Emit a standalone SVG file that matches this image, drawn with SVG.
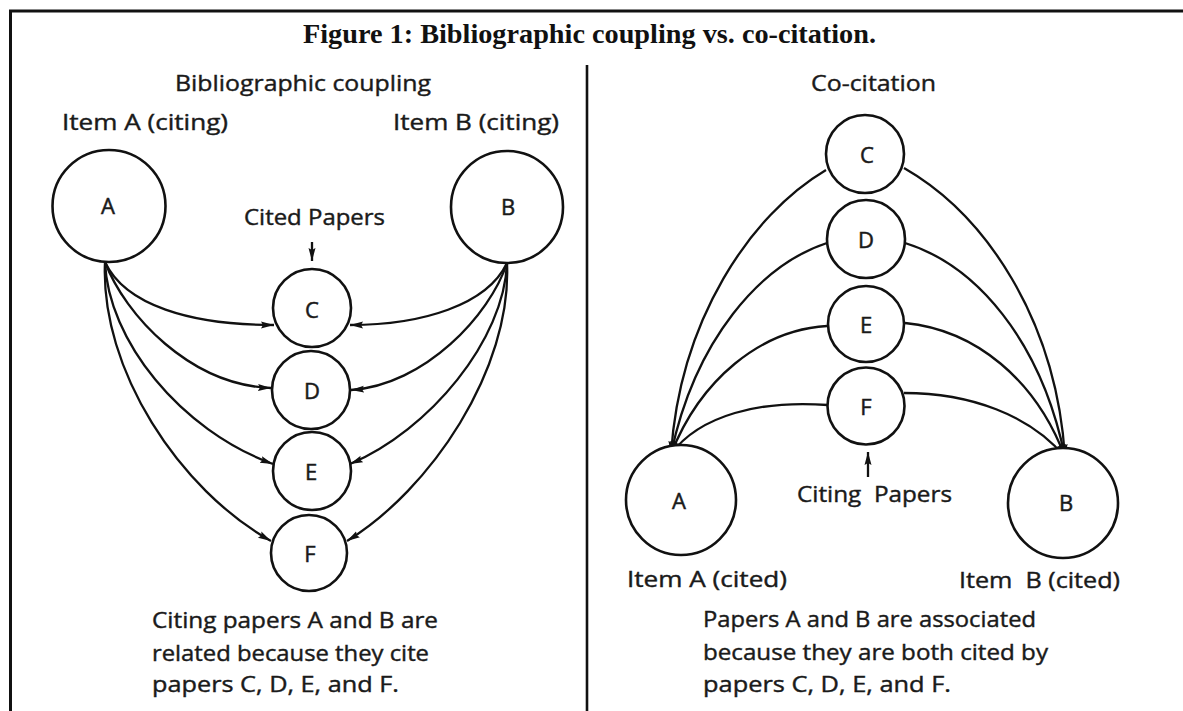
<svg xmlns="http://www.w3.org/2000/svg" width="1183" height="711" viewBox="0 0 1183 711">
<style>
.frame{stroke:#111;stroke-width:3;fill:none}
.node{fill:#fff;stroke:#111;stroke-width:2.6}
.lbl{font-family:"Open Sans","DejaVu Sans",sans-serif;font-size:22px;fill:#1a1a1a;stroke:#1a1a1a;stroke-width:0.5;text-anchor:middle}
.txt{font-family:"Open Sans","DejaVu Sans",sans-serif;font-size:21px;fill:#1a1a1a;stroke:#1a1a1a;stroke-width:0.4;white-space:pre}
.title{font-family:"Liberation Serif","Times New Roman",serif;font-weight:bold;font-size:28px;fill:#111}
.edge{fill:none;stroke:#111;stroke-width:2.3}
</style>
<defs>
<marker id="ah" markerUnits="userSpaceOnUse" markerWidth="14" markerHeight="9" refX="13" refY="4.5" orient="auto">
<path d="M0,1 L13,4.5 L0,8 L2,4.5 z" fill="#111"/>
</marker>
</defs>
<rect width="1183" height="711" fill="#fff"/>
<g id="frame">
<line class="frame" x1="9" y1="11" x2="1183" y2="11"/>
<line class="frame" x1="10.5" y1="10" x2="10.5" y2="711"/>
<line x1="587" y1="65" x2="587" y2="711" stroke="#111" stroke-width="2.6"/>
</g>
<text class="title" x="303" y="43" textLength="573" lengthAdjust="spacingAndGlyphs">Figure 1: Bibliographic coupling vs. co-citation.</text>

<g id="connectors">
<path class="edge" marker-end="url(#ah)" d="M105,262 C125,305 190,325 274,325"/>
<path class="edge" marker-end="url(#ah)" d="M105,262 C125,315 190,385 271,388"/>
<path class="edge" marker-end="url(#ah)" d="M105,262 C108,340 180,430 273,464"/>
<path class="edge" marker-end="url(#ah)" d="M105,262 C100,370 180,490 271,541"/>
<path class="edge" marker-end="url(#ah)" d="M507,263 C487,305 422,325 350,325"/>
<path class="edge" marker-end="url(#ah)" d="M507,263 C490,315 425,385 351,390"/>
<path class="edge" marker-end="url(#ah)" d="M507,263 C504,340 430,430 350,464"/>
<path class="edge" marker-end="url(#ah)" d="M507,263 C512,370 430,490 347,541"/>
<line class="edge" marker-end="url(#ah)" x1="312" y1="242" x2="312" y2="261"/>

<path class="edge" marker-end="url(#ah)" d="M826,170 C750,215 680,320 671,454"/>
<path class="edge" marker-end="url(#ah)" d="M827,243 C760,265 695,340 671,454"/>
<path class="edge" marker-end="url(#ah)" d="M827,326 C760,330 700,380 671,454"/>
<path class="edge" marker-end="url(#ah)" d="M828,405 C760,400 700,415 671,454"/>
<path class="edge" marker-end="url(#ah)" d="M904,168 C986,215 1056,320 1065,457"/>
<path class="edge" marker-end="url(#ah)" d="M905,243 C976,265 1041,340 1065,457"/>
<path class="edge" marker-end="url(#ah)" d="M905,323 C976,330 1036,380 1065,457"/>
<path class="edge" marker-end="url(#ah)" d="M904,393 C970,393 1030,415 1065,457"/>
<line class="edge" marker-end="url(#ah)" x1="868" y1="477" x2="868" y2="452"/>
</g>

<g id="left-panel-labels">
<text class="txt" x="175" y="91" textLength="256" lengthAdjust="spacingAndGlyphs">Bibliographic coupling</text>
<text class="txt" x="62" y="130" textLength="166" lengthAdjust="spacingAndGlyphs">Item A (citing)</text>
<text class="txt" x="393" y="130" textLength="166" lengthAdjust="spacingAndGlyphs">Item B (citing)</text>
<text class="txt" x="244" y="225" textLength="141" lengthAdjust="spacingAndGlyphs">Cited Papers</text>
<text class="txt" x="152" y="628" textLength="286" lengthAdjust="spacingAndGlyphs">Citing papers A and B are</text>
<text class="txt" x="152" y="661" textLength="277" lengthAdjust="spacingAndGlyphs">related because they cite</text>
<text class="txt" x="152" y="692" textLength="247" lengthAdjust="spacingAndGlyphs">papers C, D, E, and F.</text>
</g>

<g id="L-A"><ellipse class="node" cx="109" cy="206" rx="56.5" ry="56"/><text class="lbl" x="108" y="214">A</text></g>
<g id="L-B"><ellipse class="node" cx="507" cy="207" rx="56" ry="56"/><text class="lbl" x="508" y="215">B</text></g>
<g id="L-C"><circle class="node" cx="312" cy="308" r="39"/><text class="lbl" x="312" y="318">C</text></g>
<g id="L-D"><circle class="node" cx="311" cy="390" r="39"/><text class="lbl" x="312" y="399">D</text></g>
<g id="L-E"><circle class="node" cx="312" cy="471" r="39"/><text class="lbl" x="311" y="480">E</text></g>
<g id="L-F"><circle class="node" cx="309" cy="553" r="38"/><text class="lbl" x="310" y="562">F</text></g>

<g id="right-panel-labels">
<text class="txt" x="811" y="91" textLength="125" lengthAdjust="spacingAndGlyphs">Co-citation</text>
<text class="txt" x="797" y="502" textLength="155" lengthAdjust="spacingAndGlyphs">Citing  Papers</text>
<text class="txt" x="627" y="587" textLength="160" lengthAdjust="spacingAndGlyphs">Item A (cited)</text>
<text class="txt" x="959" y="588" textLength="161" lengthAdjust="spacingAndGlyphs">Item  B (cited)</text>
<text class="txt" x="703" y="627" textLength="333" lengthAdjust="spacingAndGlyphs">Papers A and B are associated</text>
<text class="txt" x="703" y="660" textLength="345" lengthAdjust="spacingAndGlyphs">because they are both cited by</text>
<text class="txt" x="703" y="692" textLength="248" lengthAdjust="spacingAndGlyphs">papers C, D, E, and F.</text>
</g>

<g id="R-C"><circle class="node" cx="865" cy="154" r="39"/><text class="lbl" x="867" y="163">C</text></g>
<g id="R-D"><circle class="node" cx="866" cy="239" r="39"/><text class="lbl" x="866" y="248">D</text></g>
<g id="R-E"><circle class="node" cx="866" cy="324" r="38"/><text class="lbl" x="866" y="333">E</text></g>
<g id="R-F"><circle class="node" cx="866" cy="406" r="38.5"/><text class="lbl" x="866" y="415">F</text></g>
<g id="R-A"><circle class="node" cx="681" cy="500" r="55"/><text class="lbl" x="679" y="509">A</text></g>
<g id="R-B"><circle class="node" cx="1063" cy="503" r="55"/><text class="lbl" x="1066" y="511">B</text></g>
</svg>
